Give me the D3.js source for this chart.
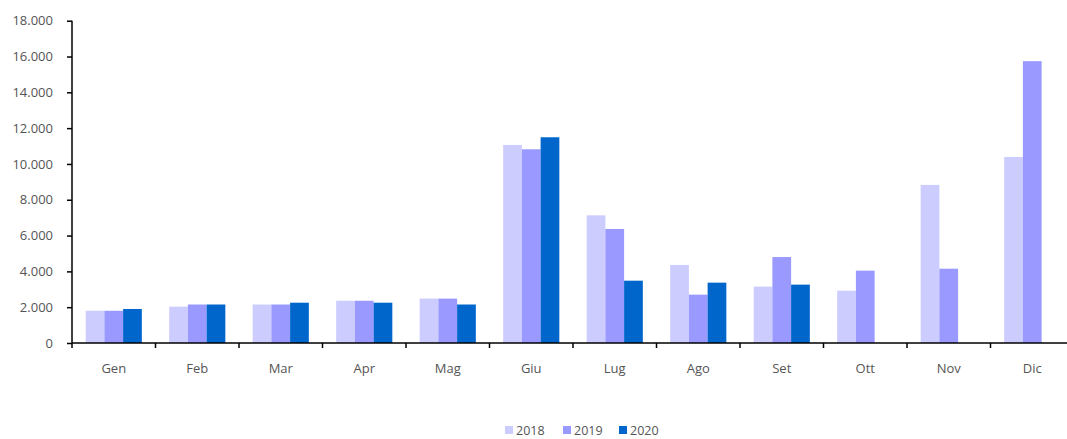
<!DOCTYPE html>
<html>
<head>
<meta charset="utf-8">
<script src="https://cdn.jsdelivr.net/npm/d3@7"></script>
<style>
  html, body { margin: 0; padding: 0; background: #fff; }
  svg { display: block; }
  text { font-family: "Open Sans", "Noto Sans", sans-serif; fill: #555555; }
</style>
</head>
<body>
<svg id="chart" width="1067" height="439"></svg>
<script>
// Monthly values per year
const months = ["Gen", "Feb", "Mar", "Apr", "Mag", "Giu", "Lug", "Ago", "Set", "Ott", "Nov", "Dic"];
const years = ["2018", "2019", "2020"];
const values2018 = [1800, 2030, 2150, 2360, 2480, 11060, 7130, 4360, 3150, 2920, 8830, 10390];
const values2019 = [1800, 2150, 2150, 2360, 2480, 10820, 6370, 2700, 4800, 4040, 4150, 15740];
const values2020 = [1900, 2150, 2250, 2250, 2150, 11490, 3480, 3370, 3260, null, null, null];
const yTicks = [0, 2000, 4000, 6000, 8000, 10000, 12000, 14000, 16000, 18000];
const colors = ["#CCCCFF", "#9999FF", "#0066CC"];

const series = [values2018, values2019, values2020];

const svg = d3.select("#chart");
const plotLeft = 72, plotRight = 1074, plotTop = 20.7, plotBottom = 343;

const locale = d3.formatLocale({ decimal: ",", thousands: ".", grouping: [3], currency: ["€", ""] });
const fmt = locale.format(",.0f");

const x = d3.scaleBand().domain(months).range([plotLeft, plotRight]).paddingInner(0).paddingOuter(0);
const inner = d3.scaleBand().domain(years).range([0, x.bandwidth()]).paddingInner(0).paddingOuter(0.73);
const y = d3.scaleLinear().domain([0, 18000]).range([plotBottom, plotTop]);

// Bars
const groups = svg.append("g").selectAll("g")
  .data(months)
  .join("g")
  .attr("transform", d => `translate(${x(d)},0)`);

groups.selectAll("rect")
  .data((m, i) => years.map((yr, k) => ({ yr, k, v: series[k][i] })).filter(d => d.v != null))
  .join("rect")
  .attr("x", d => inner(d.yr))
  .attr("width", inner.bandwidth())
  .attr("y", d => y(d.v))
  .attr("height", d => y(0) - y(d.v))
  .attr("fill", d => colors[d.k]);

// Y axis
const yAxis = svg.append("g")
  .attr("transform", `translate(${plotLeft},0)`)
  .call(d3.axisLeft(y).tickValues(yTicks).tickFormat(fmt).tickSize(5).tickPadding(14));
yAxis.select(".domain").attr("stroke", "#000").attr("stroke-width", 1.5).attr("d", `M0,${plotTop}V${plotBottom}`);
yAxis.selectAll(".tick line").attr("stroke", "#000").attr("stroke-width", 1.5);
yAxis.selectAll(".tick text").attr("font-size", 13).style("fill", "#555555");

// X axis with ticks on category boundaries
const xAxis = svg.append("g").attr("transform", `translate(0,${plotBottom})`);
xAxis.append("line")
  .attr("x1", plotLeft).attr("x2", plotRight)
  .attr("stroke", "#000").attr("stroke-width", 1.5);
xAxis.selectAll("line.tk")
  .data(months)
  .join("line")
  .attr("class", "tk")
  .attr("x1", d => x(d)).attr("x2", d => x(d))
  .attr("y1", 0).attr("y2", 5)
  .attr("stroke", "#000").attr("stroke-width", 1.5);
xAxis.selectAll("text")
  .data(months)
  .join("text")
  .attr("x", d => x(d) + x.bandwidth() / 2)
  .attr("y", 30)
  .attr("text-anchor", "middle")
  .attr("font-size", 13)
  .text(d => d);

// Legend
const legendX = [505, 563, 619];
const legend = svg.append("g").selectAll("g")
  .data(years)
  .join("g")
  .attr("transform", (d, i) => `translate(${legendX[i]},426)`);
legend.append("rect").attr("width", 8).attr("height", 8).attr("fill", (d, i) => colors[i]);
legend.append("text").attr("x", 11).attr("y", 8.5).attr("font-size", 12.5).text(d => d);
</script>
</body>
</html>
